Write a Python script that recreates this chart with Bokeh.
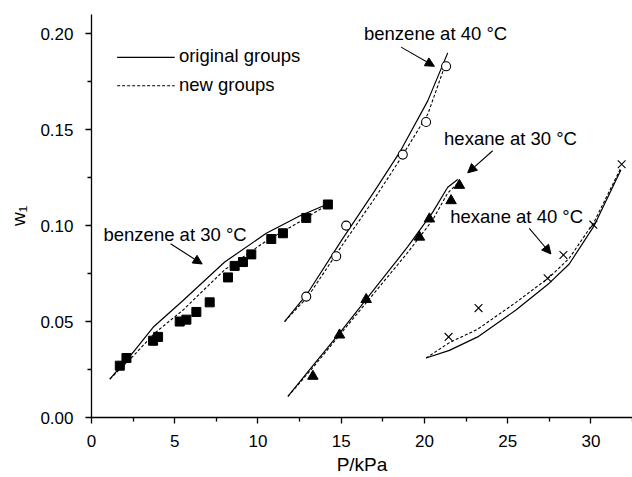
from bokeh.plotting import figure
from bokeh.models import (FixedTicker, NumeralTickFormatter, Arrow, NormalHead, Label, Range1d)
from bokeh.embed import file_html
from bokeh.resources import INLINE

FONT = "Liberation Sans"

# experimental points
b30_p = [1.7, 2.1, 3.7, 4.0, 5.3, 5.7, 6.3, 7.1, 8.2, 8.6, 9.1, 9.6, 10.8, 11.5, 12.9, 14.2]
b30_w = [0.027, 0.031, 0.040, 0.042, 0.050, 0.051, 0.055, 0.060, 0.073, 0.079, 0.081, 0.085, 0.093, 0.096, 0.104, 0.111]
b40_p = [12.9, 14.7, 15.3, 18.7, 20.1, 21.3]
b40_w = [0.063, 0.084, 0.100, 0.137, 0.154, 0.183]
h30_p = [13.3, 14.9, 16.5, 19.7, 20.3, 21.6, 22.1]
h30_w = [0.0215, 0.043, 0.0615, 0.094, 0.1035, 0.113, 0.121]
h40_p = [21.45, 23.25, 27.4, 28.35, 30.15, 31.85]
h40_w = [0.042, 0.057, 0.0726, 0.0847, 0.1005, 0.132]

# model curves: original groups (solid) and new groups (dashed)
b30_orig_p = [1.1, 2.5, 3.7, 5.5, 8.0, 10.5, 12.5, 14.4]
b30_orig_w = [0.020, 0.034, 0.047, 0.061, 0.081, 0.096, 0.105, 0.112]
b30_new_p = [1.1, 2.5, 3.8, 5.5, 8.0, 10.5, 12.5, 14.4]
b30_new_w = [0.020, 0.032, 0.044, 0.056, 0.077, 0.092, 0.102, 0.112]

b40_orig_p = [11.6, 13.0, 15.0, 17.0, 18.5, 20.2, 21.4]
b40_orig_w = [0.050, 0.065, 0.092, 0.118, 0.138, 0.165, 0.190]
b40_new_p = [11.6, 13.0, 15.0, 17.0, 18.5, 20.2, 21.3]
b40_new_w = [0.050, 0.063, 0.089, 0.114, 0.134, 0.158, 0.185]

h30_orig_p = [11.8, 13.3, 15.0, 17.0, 19.0, 20.5, 21.4, 22.0]
h30_orig_w = [0.011, 0.027, 0.045, 0.067, 0.089, 0.107, 0.120, 0.124]
h30_new_p = [11.8, 13.3, 15.0, 17.0, 19.0, 20.5, 21.4, 22.0]
h30_new_w = [0.011, 0.026, 0.044, 0.065, 0.086, 0.103, 0.117, 0.122]

h40_orig_p = [20.1, 21.5, 23.2, 25.5, 27.5, 28.7, 30.2, 31.8]
h40_orig_w = [0.031, 0.035, 0.042, 0.056, 0.070, 0.080, 0.100, 0.129]
h40_new_p = [20.1, 21.5, 23.2, 25.5, 27.5, 28.7, 30.2, 31.8]
h40_new_w = [0.031, 0.039, 0.046, 0.060, 0.073, 0.083, 0.102, 0.130]

# annotations: text, text anchor (x, y), arrow start, arrow end
ann_text = ["benzene at 30 °C", "benzene at 40 °C", "hexane at 30 °C", "hexane at 40 °C"]
ann_tx = [0.72, 16.37, 21.18, 21.55]
ann_ty = [0.0953, 0.2001, 0.1453, 0.1048]
ann_x0 = [4.75, 18.6, 24.1, 26.3]
ann_y0 = [0.0905, 0.193, 0.139, 0.0986]
ann_x1 = [6.65, 20.6, 22.6, 27.6]
ann_y1 = [0.080, 0.183, 0.1275, 0.0852]

# legend entries
leg_text = ["original groups", "new groups"]
leg_line_y = [0.1877, 0.1729]
leg_text_y = [0.1888, 0.1735]
leg_x = [1.54, 5.0]
leg_text_x = 5.25

x_ticks = [0, 5, 10, 15, 20, 25, 30]
x_minor = [2.5, 7.5, 12.5, 17.5, 22.5, 27.5, 32.5]
y_ticks = [0.0, 0.05, 0.10, 0.15, 0.20]
y_minor = [0.025, 0.075, 0.125, 0.175]

p = figure(width=632, height=477, output_backend="svg", toolbar_location=None,
           x_range=Range1d(0, 32.5), y_range=Range1d(0, 0.21),
           min_border_left=91, min_border_right=0, min_border_top=14, min_border_bottom=60)
p.outline_line_color = None
p.xgrid.visible = False
p.ygrid.visible = False
p.background_fill_color = "white"
p.border_fill_color = "white"

p.xaxis.ticker = FixedTicker(ticks=x_ticks, minor_ticks=x_minor)
p.yaxis.ticker = FixedTicker(ticks=y_ticks, minor_ticks=y_minor)
p.yaxis.formatter = NumeralTickFormatter(format="0.00")
p.xaxis.axis_label = "P/kPa"
p.yaxis.axis_label = "w₁"
for ax in (p.xaxis, p.yaxis):
    ax.axis_line_color = "black"
    ax.axis_line_width = 1.3
    ax.major_tick_in = 0
    ax.major_tick_out = 6
    ax.minor_tick_in = 0
    ax.minor_tick_out = 4
    ax.major_tick_line_width = 1.3
    ax.minor_tick_line_width = 1.3
    ax.major_label_text_font = FONT
    ax.major_label_text_font_size = "17px"
    ax.major_label_text_color = "black"
    ax.axis_label_text_font = FONT
    ax.axis_label_text_font_size = "19px"
    ax.axis_label_text_font_style = "normal"
    ax.axis_label_text_color = "black"
p.xaxis.major_label_standoff = 11
p.xaxis.axis_label_standoff = 4
p.yaxis.major_label_standoff = 12
p.yaxis.axis_label_standoff = 8

# curves
for xs, ys in [(b30_orig_p, b30_orig_w), (b40_orig_p, b40_orig_w),
               (h30_orig_p, h30_orig_w), (h40_orig_p, h40_orig_w)]:
    p.line(xs, ys, line_color="black", line_width=1.2)
for xs, ys in [(b30_new_p, b30_new_w), (b40_new_p, b40_new_w),
               (h30_new_p, h30_new_w), (h40_new_p, h40_new_w)]:
    p.line(xs, ys, line_color="black", line_width=1.1, line_dash="3 2")

# points
p.scatter(b30_p, b30_w, marker="square", size=9, fill_color="black", line_color="black")
p.scatter(b40_p, b40_w, marker="circle", size=9, fill_color="white", line_color="black", line_width=1.1)
p.scatter(h30_p, h30_w, marker="triangle", size=10.5, fill_color="black", line_color="black")
p.scatter(h40_p, h40_w, marker="x", size=11, line_color="black", line_width=1.1)

# annotations
for t, tx, ty, x0, y0, x1, y1 in zip(ann_text, ann_tx, ann_ty, ann_x0, ann_y0, ann_x1, ann_y1):
    p.add_layout(Label(x=tx, y=ty, text=t, text_font=FONT, text_font_size="18.5px",
                       text_color="black", text_baseline="alphabetic", text_align="left"))
    p.add_layout(Arrow(x_start=x0, y_start=y0, x_end=x1, y_end=y1, line_color="black",
                       line_width=1.1,
                       end=NormalHead(size=9, fill_color="black", line_color="black")))

# legend (drawn manually to match the reference)
p.line(leg_x, [leg_line_y[0]] * 2, line_color="black", line_width=1.2)
p.line(leg_x, [leg_line_y[1]] * 2, line_color="black", line_width=1.1, line_dash="3 2")
for t, ty in zip(leg_text, leg_text_y):
    p.add_layout(Label(x=leg_text_x, y=ty, text=t, text_font=FONT, text_font_size="18.5px",
                       text_baseline="alphabetic", text_color="black"))

open("out.html", "w").write(file_html(p, INLINE))
